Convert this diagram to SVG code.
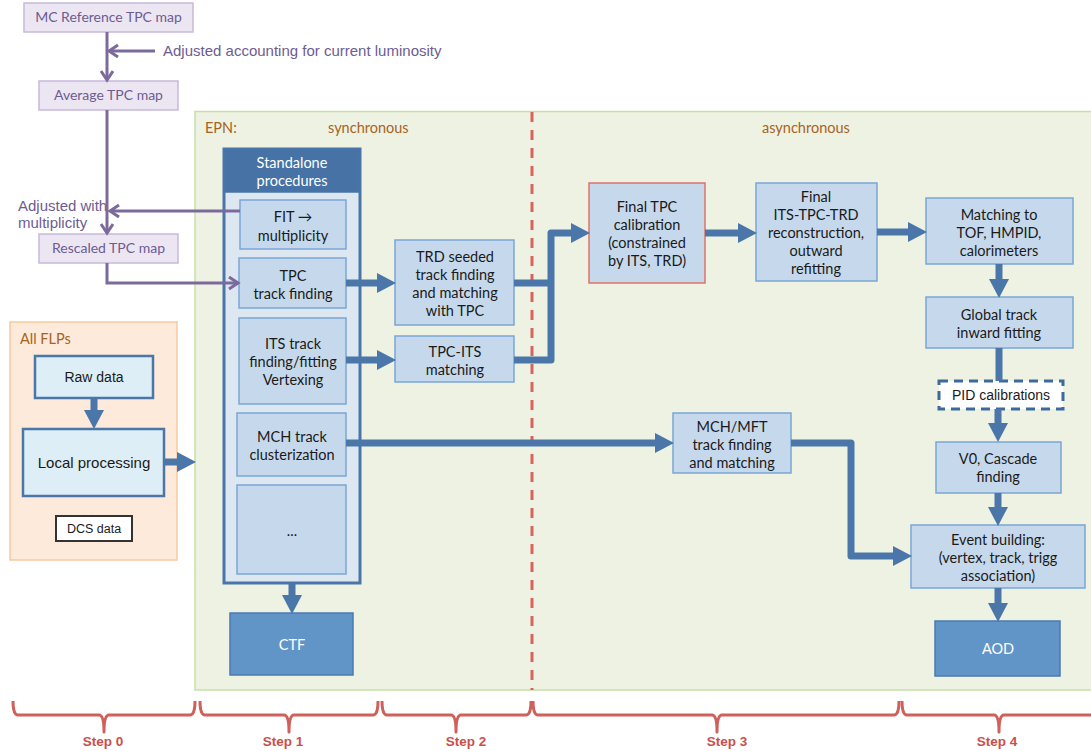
<svg xmlns="http://www.w3.org/2000/svg" width="1091" height="751" viewBox="0 0 1091 751">
<style>
.t{font-family:Lato,"Open Sans",sans-serif;font-size:14.5px;fill:#1a1a1a;text-anchor:middle}
.tw{font-family:Lato,"Open Sans",sans-serif;font-size:14.5px;fill:#ffffff;text-anchor:middle}
.tp{font-family:Lato,"Open Sans",sans-serif;font-size:14px;fill:#6d5c92;text-anchor:middle}
.ta{font-family:"Liberation Sans",Arial,sans-serif;font-size:14px;fill:#1a1a1a;text-anchor:middle}
.tpa{font-family:"Liberation Sans",Arial,sans-serif;font-size:15px;fill:#6d5c92}
.tb{font-family:Lato,"Open Sans",sans-serif;font-size:14.5px;fill:#a8621e}
.step{font-family:"Liberation Sans",Arial,sans-serif;font-size:13.5px;font-weight:bold;fill:#c9504a;text-anchor:middle}
.box{fill:#c6d9ec;stroke:#7aa6d6;stroke-width:1.5}
.dbox{fill:#6195c8;stroke:#4a7ab0;stroke-width:1.5}
.pbox{fill:#ece6f2;stroke:#c8b9da;stroke-width:1.5}
.fbox{fill:#ddeef6;stroke:#4a76a8;stroke-width:2.5}
.ar{fill:none;stroke:#4a76a9;stroke-width:7}
.pl{fill:none;stroke:#7c6a9c;stroke-width:3}
.br{fill:none;stroke:#d0605a;stroke-width:3;stroke-linejoin:round}
</style>
<defs>
<marker id="ah" markerUnits="userSpaceOnUse" markerWidth="20" markerHeight="20" refX="0" refY="10" orient="auto">
<path d="M0,0 L19,10 L0,20 z" fill="#4a76a9"/>
</marker>
<marker id="ph" markerUnits="userSpaceOnUse" markerWidth="14" markerHeight="16" refX="11" refY="7" orient="auto">
<path d="M2,1 L11,7 L2,13" fill="none" stroke="#7c6a9c" stroke-width="3"/>
</marker>
</defs>
<rect width="1091" height="751" fill="#ffffff"/>

<g id="epn">
<rect x="195" y="111.5" width="900" height="578.5" fill="#eef2e2" stroke="#c8dfa8" stroke-width="1.5"/>
<text class="tb" x="205" y="133">EPN:</text>
<text class="tb" x="328" y="133">synchronous</text>
<text class="tb" x="762" y="133">asynchronous</text>
<line x1="532" y1="112" x2="532" y2="690" stroke="#d9625a" stroke-width="3" stroke-dasharray="10,8"/>
</g>

<g id="flps">
<rect x="10" y="322" width="167" height="238" fill="#fdeadb" stroke="#f8c9a0" stroke-width="1.5"/>
<text class="tb" x="20" y="344">All FLPs</text>
</g>
<g id="raw"><rect class="fbox" x="35" y="356" width="118" height="42"/><text class="ta" x="94" y="382">Raw data</text></g>
<g id="local"><rect class="fbox" x="23" y="429" width="141" height="67"/><text class="ta" x="94" y="468" style="font-size:15px">Local processing</text></g>
<g id="dcs"><rect x="56" y="516" width="76" height="25" fill="#ffffff" stroke="#333333" stroke-width="2"/><text class="ta" x="94" y="533" style="font-size:12.5px">DCS data</text></g>

<g id="mcref"><rect class="pbox" x="24" y="3" width="169" height="29"/><text class="tp" x="108.5" y="22">MC Reference TPC map</text></g>
<g id="avg"><rect class="pbox" x="39" y="81" width="139" height="29"/><text class="tp" x="108.5" y="100">Average TPC map</text></g>
<g id="rescaled"><rect class="pbox" x="39" y="234" width="139" height="29"/><text class="tp" x="108.5" y="253">Rescaled TPC map</text></g>
<text class="tpa" x="163" y="56">Adjusted accounting for current luminosity</text>
<text class="tpa" x="18" y="211">Adjusted with</text>
<text class="tpa" x="18" y="228">multiplicity</text>

<g id="standalone">
<rect x="224" y="149" width="136" height="434" fill="#dde7f2" stroke="#4a75a8" stroke-width="3"/>
<rect x="224" y="149" width="136" height="43" fill="#4672a5" stroke="#4a75a8" stroke-width="1.5"/>
<text class="tw" x="292" y="168">Standalone</text>
<text class="tw" x="292" y="186">procedures</text>
</g>
<g id="fit"><rect class="box" x="240" y="200" width="106" height="49"/><text class="t" x="293" y="222">FIT →</text><text class="t" x="293" y="241">multiplicity</text></g>
<g id="tpc"><rect class="box" x="239" y="258" width="107" height="50"/><text class="t" x="293" y="281">TPC</text><text class="t" x="293" y="299">track finding</text></g>
<g id="its"><rect class="box" x="239" y="318" width="107" height="86"/><text class="t" x="293" y="349">ITS track</text><text class="t" x="293" y="367">finding/fitting</text><text class="t" x="293" y="385">Vertexing</text></g>
<g id="mch"><rect class="box" x="237" y="413" width="109" height="63"/><text class="t" x="292" y="442">MCH track</text><text class="t" x="292" y="460">clusterization</text></g>
<g id="dots"><rect class="box" x="237" y="485" width="109" height="89"/><text class="t" x="292" y="536">...</text></g>
<g id="ctf"><rect class="dbox" x="230" y="613" width="123" height="62"/><text class="tw" x="292" y="650">CTF</text></g>

<g id="trd"><rect class="box" x="395" y="240" width="119" height="85"/><text class="t" x="455" y="262">TRD seeded</text><text class="t" x="455" y="280">track finding</text><text class="t" x="455" y="298">and matching</text><text class="t" x="455" y="316">with TPC</text></g>
<g id="tpcits"><rect class="box" x="395" y="336" width="119" height="46"/><text class="t" x="455" y="357">TPC-ITS</text><text class="t" x="455" y="375">matching</text></g>
<g id="finaltpc"><rect x="589" y="183" width="116" height="100" fill="#c6d9ec" stroke="#e0706a" stroke-width="1.5"/><text class="t" x="647" y="212">Final TPC</text><text class="t" x="647" y="230">calibration</text><text class="t" x="647" y="248">(constrained</text><text class="t" x="647" y="266">by ITS, TRD)</text></g>
<g id="finalits"><rect class="box" x="756" y="183" width="121" height="98"/><text class="t" x="816" y="202">Final</text><text class="t" x="816" y="220">ITS-TPC-TRD</text><text class="t" x="816" y="238">reconstruction,</text><text class="t" x="816" y="256">outward</text><text class="t" x="816" y="274">refitting</text></g>
<g id="matching"><rect class="box" x="926" y="198" width="147" height="66"/><text class="t" x="999" y="220">Matching to</text><text class="t" x="999" y="238">TOF, HMPID,</text><text class="t" x="999" y="256">calorimeters</text></g>
<g id="global"><rect class="box" x="926" y="297" width="147" height="51"/><text class="t" x="999" y="320">Global track</text><text class="t" x="999" y="338">inward fitting</text></g>
<g id="pid"><rect x="939" y="381" width="124" height="28" fill="#ffffff" stroke="#3d6a9e" stroke-width="3" stroke-dasharray="9,6"/><text class="ta" x="1001" y="400">PID calibrations</text></g>
<g id="v0"><rect class="box" x="936" y="442" width="125" height="51"/><text class="t" x="998" y="464">V0, Cascade</text><text class="t" x="998" y="482">finding</text></g>
<g id="event"><rect class="box" x="911" y="525" width="174" height="63"/><text class="t" x="998" y="545">Event building:</text><text class="t" x="998" y="563">(vertex, track, trigg</text><text class="t" x="998" y="581">association)</text></g>
<g id="aod"><rect class="dbox" x="935" y="621" width="125" height="55"/><text class="tw" x="998" y="654">AOD</text></g>
<g id="mchmft"><rect class="box" x="673" y="413" width="118" height="60"/><text class="t" x="732" y="432">MCH/MFT</text><text class="t" x="732" y="450">track finding</text><text class="t" x="732" y="468">and matching</text></g>

<g id="connectors">
<path class="pl" d="M107,32 V80" marker-end="url(#ph)"/>
<path class="pl" d="M155,51 H109" marker-end="url(#ph)"/>
<path class="pl" d="M107,110 V233" marker-end="url(#ph)"/>
<path class="pl" d="M240,211 H110" marker-end="url(#ph)"/>
<path class="pl" d="M107,263 V283 H238" marker-end="url(#ph)"/>

<path class="ar" d="M94,398 V410" marker-end="url(#ah)"/>
<path class="ar" d="M164,462 H177" marker-end="url(#ah)"/>
<path class="ar" d="M292,583 V595" marker-end="url(#ah)"/>
<path class="ar" d="M346,283 H377" marker-end="url(#ah)"/>
<path class="ar" d="M346,360 H377" marker-end="url(#ah)"/>
<path class="ar" d="M514,283 H551"/>
<path class="ar" d="M514,360 H551 V233 H571" stroke-linejoin="round" marker-end="url(#ah)"/>
<path class="ar" d="M705,233 H738" marker-end="url(#ah)"/>
<path class="ar" d="M877,232 H908" marker-end="url(#ah)"/>
<path class="ar" d="M999,264 V279" marker-end="url(#ah)"/>
<path class="ar" d="M999,348 V381"/>
<path class="ar" d="M998,409 V423" marker-end="url(#ah)"/>
<path class="ar" d="M998,493 V507" marker-end="url(#ah)"/>
<path class="ar" d="M998,588 V603" marker-end="url(#ah)"/>
<path class="ar" d="M346,443 H655" marker-end="url(#ah)"/>
<path class="ar" d="M791,443 H851 V556 H893" stroke-linejoin="round" marker-end="url(#ah)"/>
</g>

<g id="steps">
<path class="br" d="M13,701 Q13,715 18,715 H99 Q104,715 104,732 Q104,715 109,715 H190 Q195,715 195,701"/>
<path class="br" d="M200,701 Q200,715 205,715 H284 Q289,715 289,732 Q289,715 294,715 H373 Q378,715 378,701"/>
<path class="br" d="M382,701 Q382,715 387,715 H451 Q456,715 456,732 Q456,715 461,715 H526 Q531,715 531,701"/>
<path class="br" d="M533,701 Q533,715 538,715 H712 Q717,715 717,732 Q717,715 722,715 H894 Q899,715 899,701"/>
<path class="br" d="M902,701 Q902,715 907,715 H994 Q999,715 999,732 Q999,715 1004,715 H1095"/>
<text class="step" x="103" y="746">Step 0</text>
<text class="step" x="283" y="746">Step 1</text>
<text class="step" x="466" y="746">Step 2</text>
<text class="step" x="727" y="746">Step 3</text>
<text class="step" x="997" y="746">Step 4</text>
</g>
</svg>
